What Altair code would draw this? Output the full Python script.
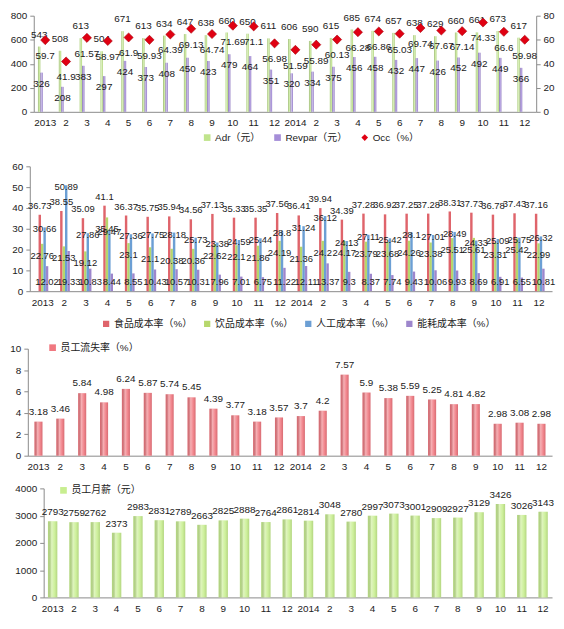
import altair as alt
import pandas as pd

x_labels = ["2013", "2", "3", "4", "5", "6", "7", "8", "9", "10", "11", "12",
            "2014", "2", "3", "4", "5", "6", "7", "8", "9", "10", "11", "12"]

# panel 1
adr = [543, 508, 613, 504, 671, 613, 634, 647, 638, 660, 650, 611,
       606, 590, 615, 685, 674, 657, 638, 629, 660, 661, 673, 617]
revpar = [326, 208, 383, 297, 424, 373, 408, 450, 423, 479, 464, 351,
          320, 334, 375, 456, 458, 432, 447, 426, 452, 492, 449, 366]
occ = [59.7, 41.9, 61.57, 58.97, 61.9, 59.93, 64.39, 69.13, 64.74, 71.69, 71.1, 56.98,
       51.59, 55.89, 60.13, 66.28, 66.86, 65.03, 69.74, 67.67, 67.14, 74.33, 66.60, 59.98]

# panel 2
food = [36.73, 38.55, 35.09, 41.1, 36.37, 35.75, 35.94, 34.56, 37.13, 35.33, 35.35, 37.56,
        36.41, 39.94, 34.39, 37.28, 36.92, 37.25, 37.28, 38.31, 37.73, 36.78, 37.43, 37.16]
drink = [22.76, 21.53, 19.12, 35.45, 23.1, 21.1, 20.38, 20.36, 22.62, 22.1, 21.86, 24.19,
         21.36, 24.2, 24.17, 23.79, 23.68, 24.26, 23.38, 25.51, 25.61, 23.31, 25.42, 22.99]
labor = [30.66, 50.89, 27.86, 29.47, 27.36, 27.75, 28.18, 25.73, 23.38, 24.59, 25.44, 28.8,
         31.24, 36.12, 24.13, 27.11, 25.42, 28.1, 27.01, 28.49, 24.33, 25.09, 25.75, 26.32]
energy = [12.02, 19.33, 10.83, 8.44, 8.55, 10.43, 10.57, 10.31, 7.96, 7.01, 6.75, 11.22,
          12.11, 13.37, 9.3, 8.37, 7.74, 9.43, 10.06, 9.93, 8.69, 6.91, 6.55, 10.81]

# panel 3
turnover = [3.18, 3.46, 5.84, 4.98, 6.24, 5.87, 5.74, 5.45, 4.39, 3.77, 3.18, 3.57,
            3.7, 4.2, 7.57, 5.9, 5.38, 5.59, 5.25, 4.81, 4.82, 2.98, 3.08, 2.98]

# panel 4
salary = [2793, 2759, 2762, 2373, 2983, 2831, 2789, 2663, 2825, 2888, 2764, 2861,
          2814, 3048, 2780, 2997, 3073, 3001, 2909, 2927, 3129, 3426, 3026, 3143]

S1 = ["Adr（元）", "Revpar（元）", "Occ（%）"]
S2 = ["食品成本率（%）", "饮品成本率（%）", "人工成本率（%）", "能耗成本率（%）"]
S3 = ["员工流失率（%）"]
S4 = ["员工月薪（元）"]

n = len(x_labels)
idx = list(range(n))
FONT = "Liberation Sans, Noto Sans CJK SC"
TXT = "#1a1a1a"
LABEL_EXPR = "[" + ",".join("'%s'" % s for s in x_labels) + "][datum.value]"

SHINE = alt.LinearGradient(
    gradient="linear", x1=0, x2=1, y1=0, y2=0,
    stops=[alt.GradientStop(color="rgba(0,0,0,0.08)", offset=0),
           alt.GradientStop(color="rgba(255,255,255,0.42)", offset=0.4),
           alt.GradientStop(color="rgba(255,255,255,0.10)", offset=0.72),
           alt.GradientStop(color="rgba(0,0,0,0.10)", offset=1)])


def xenc(start, width, pi, po):
    return alt.X("idx:O", title=None,
                 scale=alt.Scale(range=[start, width], paddingInner=pi, paddingOuter=po),
                 axis=alt.Axis(labelExpr=LABEL_EXPR, labelAngle=0, ticks=False,
                               labelPadding=6, labelFontSize=10))


def yenc(field, domain, rng, values, offset=0, orient="left"):
    return alt.Y(field, title=None,
                 scale=alt.Scale(domain=domain, range=rng, nice=False, zero=True),
                 axis=alt.Axis(values=values, orient=orient, offset=offset, tickSize=4,
                               labelPadding=3, grid=False, format="d"))


# ---------------- panel 1 ----------------
W1, H1 = 513, 97
df1 = pd.DataFrame({"idx": idx * 2, "series": [S1[0]] * n + [S1[1]] * n,
                    "value": adr + revpar})
dfo = pd.DataFrame({"idx": idx, "series": [S1[2]] * n, "value": occ})
leg1 = alt.Legend(title=None, orient="none", legendX=176, legendY=118,
                  direction="horizontal", symbolSize=45, symbolStrokeWidth=0,
                  labelFontSize=10, columnPadding=12, labelOffset=3)
color1 = alt.Color("series:N", scale=alt.Scale(domain=S1, range=["#c0e48c", "#a58ed8", "#e00012"]),
                   legend=leg1)
shape1 = alt.Shape("series:N", scale=alt.Scale(domain=S1, range=["square", "square", "diamond"]),
                   legend=leg1)
x1 = xenc(6, W1, 0.3, 0.2)
xo1 = alt.XOffset("series:N", scale=alt.Scale(domain=S1[:2], paddingInner=0))
y1 = yenc("value:Q", [0, 800], [H1, 0], [0, 200, 400, 600, 800], offset=-6)
y1r = yenc("value:Q", [0, 80], [H1, 0], [0, 20, 40, 60, 80], orient="right")

bars1 = alt.Chart(df1).mark_bar().encode(x=x1, xOffset=xo1, y=y1, color=color1)
shine1 = alt.Chart(df1).mark_bar(color=SHINE).encode(x=x1, xOffset=xo1, y=y1)
adr_t = alt.Chart(df1).transform_filter(alt.datum.series == S1[0]).mark_text(
    dy=-12, fontSize=10, color=TXT).encode(x=x1, xOffset=xo1, y=y1, text="value:Q")
rev_t = alt.Chart(df1).transform_filter(alt.datum.series == S1[1]).mark_text(
    dy=11, fontSize=10, color=TXT).encode(x=x1, xOffset=xo1, y=y1, text="value:Q")
left1 = alt.layer(bars1, shine1, adr_t, rev_t)
pts = alt.Chart(dfo).mark_point(filled=True, size=85, opacity=1, stroke="#a8000c",
                                strokeWidth=0.6).encode(x=x1, y=y1r, color=color1, shape=shape1)
occ_t = alt.Chart(dfo).mark_text(dy=16, fontSize=10, color=TXT).encode(x=x1, y=y1r, text="value:Q")
right1 = alt.layer(pts, occ_t)
p1 = alt.layer(left1, right1).resolve_scale(y="independent").properties(width=W1, height=H1)

# ---------------- panel 2 ----------------
W = 529
TOP2, H2 = 22, 126
df2 = pd.DataFrame({"idx": idx * 4, "series": sum([[s] * n for s in S2], []),
                    "value": food + drink + labor + energy})
x2 = xenc(2, W, 0.16, 0.18)
xo2 = alt.XOffset("series:N", scale=alt.Scale(domain=S2, paddingInner=0.28))
rng2 = [TOP2 + H2, TOP2]
y2 = yenc("value:Q", [0, 60], rng2, [0, 10, 20, 30, 40, 50, 60], offset=-2)
color2 = alt.Color("series:N",
                   scale=alt.Scale(domain=S2, range=["#df646b", "#b6d76c", "#6c9fd4", "#9d86cc"]),
                   legend=alt.Legend(title=None, orient="none", legendX=74, legendY=TOP2 + 154,
                                     direction="horizontal", symbolSize=40, symbolType="square",
                                     symbolStrokeWidth=0, labelFontSize=10, columnPadding=10,
                                     labelOffset=3))
bars2 = alt.Chart(df2).mark_bar().encode(x=x2, xOffset=xo2, y=y2, color=color2)
layers2 = [bars2]
for s, dy in zip(S2[:3], [-9, 12, 2]):
    layers2.append(alt.Chart(df2).transform_filter(alt.datum.series == s).mark_text(
        dy=dy, fontSize=9.5, color=TXT).encode(x=x2, xOffset=xo2, y=y2, text="value:Q"))
y2b = yenc("base:Q", [0, 60], rng2, [0, 10, 20, 30, 40, 50, 60], offset=-2)
layers2.append(alt.Chart(df2).transform_filter(alt.datum.series == S2[3]).transform_calculate(
    base="0").mark_text(dy=-9, fontSize=9.5, color=TXT).encode(
    x=x2, xOffset=xo2, y=y2b, text="value:Q"))
p2 = alt.layer(*layers2).properties(width=W, height=TOP2 + H2)

# ---------------- panel 3 ----------------
TOP3, H3 = 25, 108
df3 = pd.DataFrame({"idx": idx, "series": S3 * n, "value": turnover})
x3 = xenc(0, W, 0.63, 0.3)
y3 = yenc("value:Q", [0, 10], [TOP3 + H3, TOP3], [0, 2, 4, 6, 8, 10])
color3 = alt.Color("series:N", scale=alt.Scale(domain=S3, range=["#f07880"]),
                   legend=alt.Legend(title=None, orient="none", legendX=20, legendY=TOP3 - 6,
                                     symbolSize=45, symbolType="square", symbolStrokeWidth=0,
                                     labelFontSize=10, labelOffset=3))
bars3 = alt.Chart(df3).mark_bar().encode(x=x3, y=y3, color=color3)
shine3 = alt.Chart(df3).mark_bar(color=SHINE).encode(x=x3, y=y3)
text3 = alt.Chart(df3).mark_text(dy=-10, fontSize=10, color=TXT).encode(x=x3, y=y3, text="value:Q")
p3 = alt.layer(bars3, shine3, text3).properties(width=W, height=TOP3 + H3)

# ---------------- panel 4 ----------------
H4 = 110
df4 = pd.DataFrame({"idx": idx, "series": S4 * n, "value": salary})
x4 = xenc(16, W, 0.56, 0.2)
y4 = yenc("value:Q", [0, 4000], [H4, 0], [0, 1000, 2000, 3000, 4000], offset=-16)
color4 = alt.Color("series:N", scale=alt.Scale(domain=S4, range=["#c8ee90"]),
                   legend=alt.Legend(title=None, orient="none", legendX=31, legendY=-3,
                                     symbolSize=45, symbolType="square", symbolStrokeWidth=0,
                                     labelFontSize=10, labelOffset=3))
bars4 = alt.Chart(df4).mark_bar().encode(x=x4, y=y4, color=color4)
shine4 = alt.Chart(df4).mark_bar(color=SHINE).encode(x=x4, y=y4)
text4 = alt.Chart(df4).mark_text(dy=-9, fontSize=10, color=TXT).encode(x=x4, y=y4, text="value:Q")
p4 = alt.layer(bars4, shine4, text4).properties(width=W, height=H4)

chart = alt.vconcat(p1, p2, p3, p4, spacing=33, bounds="flush").resolve_scale(
    color="independent", shape="independent", x="independent", y="independent"
).resolve_legend(color="independent", shape="independent").properties(
    padding={"left": 1, "top": 0, "right": 0, "bottom": 0}
).configure(font=FONT).configure_view(stroke=None).configure_axis(
    labelFont=FONT, labelFontSize=10, labelColor="#222222", domainColor="#8a8a8a",
    tickColor="#8a8a8a", grid=False
).configure_legend(labelFont=FONT, labelColor="#222222")

chart.save("out.html", embed_options={"renderer": "svg", "actions": False})
